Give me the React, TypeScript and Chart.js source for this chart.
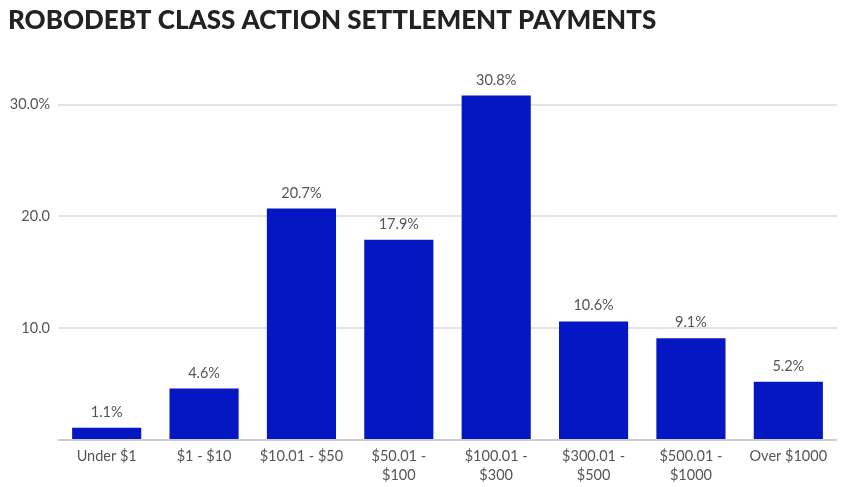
import React, { useEffect, useRef } from "react";
import { Chart, registerables } from "chart.js";

Chart.register(...registerables);

const TITLE = "ROBODEBT CLASS ACTION SETTLEMENT PAYMENTS";
const categories: (string | string[])[] = [
  "Under $1",
  "$1 - $10",
  "$10.01 - $50",
  ["$50.01 -", "$100"],
  ["$100.01 -", "$300"],
  ["$300.01 -", "$500"],
  ["$500.01 -", "$1000"],
  "Over $1000",
];
const values: number[] = [1.1, 4.6, 20.7, 17.9, 30.8, 10.6, 9.1, 5.2];
const yTicks: number[] = [10, 20, 30];

const BAR_COLOR = "#0517C3";
const TEXT_COLOR = "#555555";
const FONT = "Lato, 'Open Sans', sans-serif";

const titlePlugin = {
  id: "customTitle",
  afterDraw(chart: any) {
    const ctx = chart.ctx;
    ctx.save();
    ctx.fillStyle = "#222222";
    ctx.font = `900 26px ${FONT}`;
    ctx.textAlign = "left";
    ctx.textBaseline = "alphabetic";
    ctx.fillText(TITLE, 8, 29);
    ctx.restore();
  },
};

const valueLabelPlugin = {
  id: "valueLabels",
  afterDatasetsDraw(chart: any) {
    const ctx = chart.ctx;
    const meta = chart.getDatasetMeta(0);
    ctx.save();
    ctx.fillStyle = TEXT_COLOR;
    ctx.font = `14.5px ${FONT}`;
    ctx.textAlign = "center";
    ctx.textBaseline = "alphabetic";
    meta.data.forEach((bar: any, i: number) => {
      ctx.fillText(values[i].toFixed(1) + "%", bar.x, bar.y - 11);
    });
    ctx.restore();
  },
};

export default function App() {
  const ref = useRef<HTMLCanvasElement>(null);
  useEffect(() => {
    document.body.style.margin = "0";
    if (!ref.current) return;
    const chart = new Chart(ref.current, {
      type: "bar",
      data: {
        labels: categories,
        datasets: [
          {
            data: values,
            backgroundColor: BAR_COLOR,
            barPercentage: 0.71,
            categoryPercentage: 1,
          },
        ],
      },
      options: {
        animation: false,
        responsive: false,
        maintainAspectRatio: false,
        layout: { padding: { top: 71, right: 6, left: 0, bottom: 0 } },
        plugins: {
          legend: { display: false },
          tooltip: { enabled: false },
          title: { display: false },
        },
        scales: {
          x: {
            grid: { display: false, drawTicks: false },
            border: { display: false },
            ticks: {
              color: TEXT_COLOR,
              font: { family: FONT, size: 14.5, lineHeight: 1.3 },
              padding: 7,
              maxRotation: 0,
              autoSkip: false,
            },
            afterFit(scale: any) {
              scale.height = 47;
            },
          },
          y: {
            min: 0,
            max: 33,
            border: { display: false },
            afterBuildTicks(scale: any) {
              scale.ticks = [0, ...yTicks].map((v) => ({ value: v }));
            },
            grid: {
              drawTicks: false,
              lineWidth: 2,
              color: (c: any) =>
                c.tick && c.tick.value === 0 ? "#cccccc" : "#e3e3e3",
            },
            ticks: {
              color: TEXT_COLOR,
              font: { family: FONT, size: 14.5 },
              padding: 8,
              callback: (v: any) => {
                if (v === 0) return "";
                if (v === yTicks[yTicks.length - 1]) return v.toFixed(1) + "%";
                return Number(v).toFixed(1);
              },
            },
            afterFit(scale: any) {
              scale.width = 58;
            },
          },
        },
      },
      plugins: [titlePlugin, valueLabelPlugin],
    });
    return () => chart.destroy();
  }, []);
  return (
    <div style={{ position: "relative", width: 843, height: 487 }}>
      <canvas ref={ref} width={843} height={487} style={{ display: "block" }} />
    </div>
  );
}
